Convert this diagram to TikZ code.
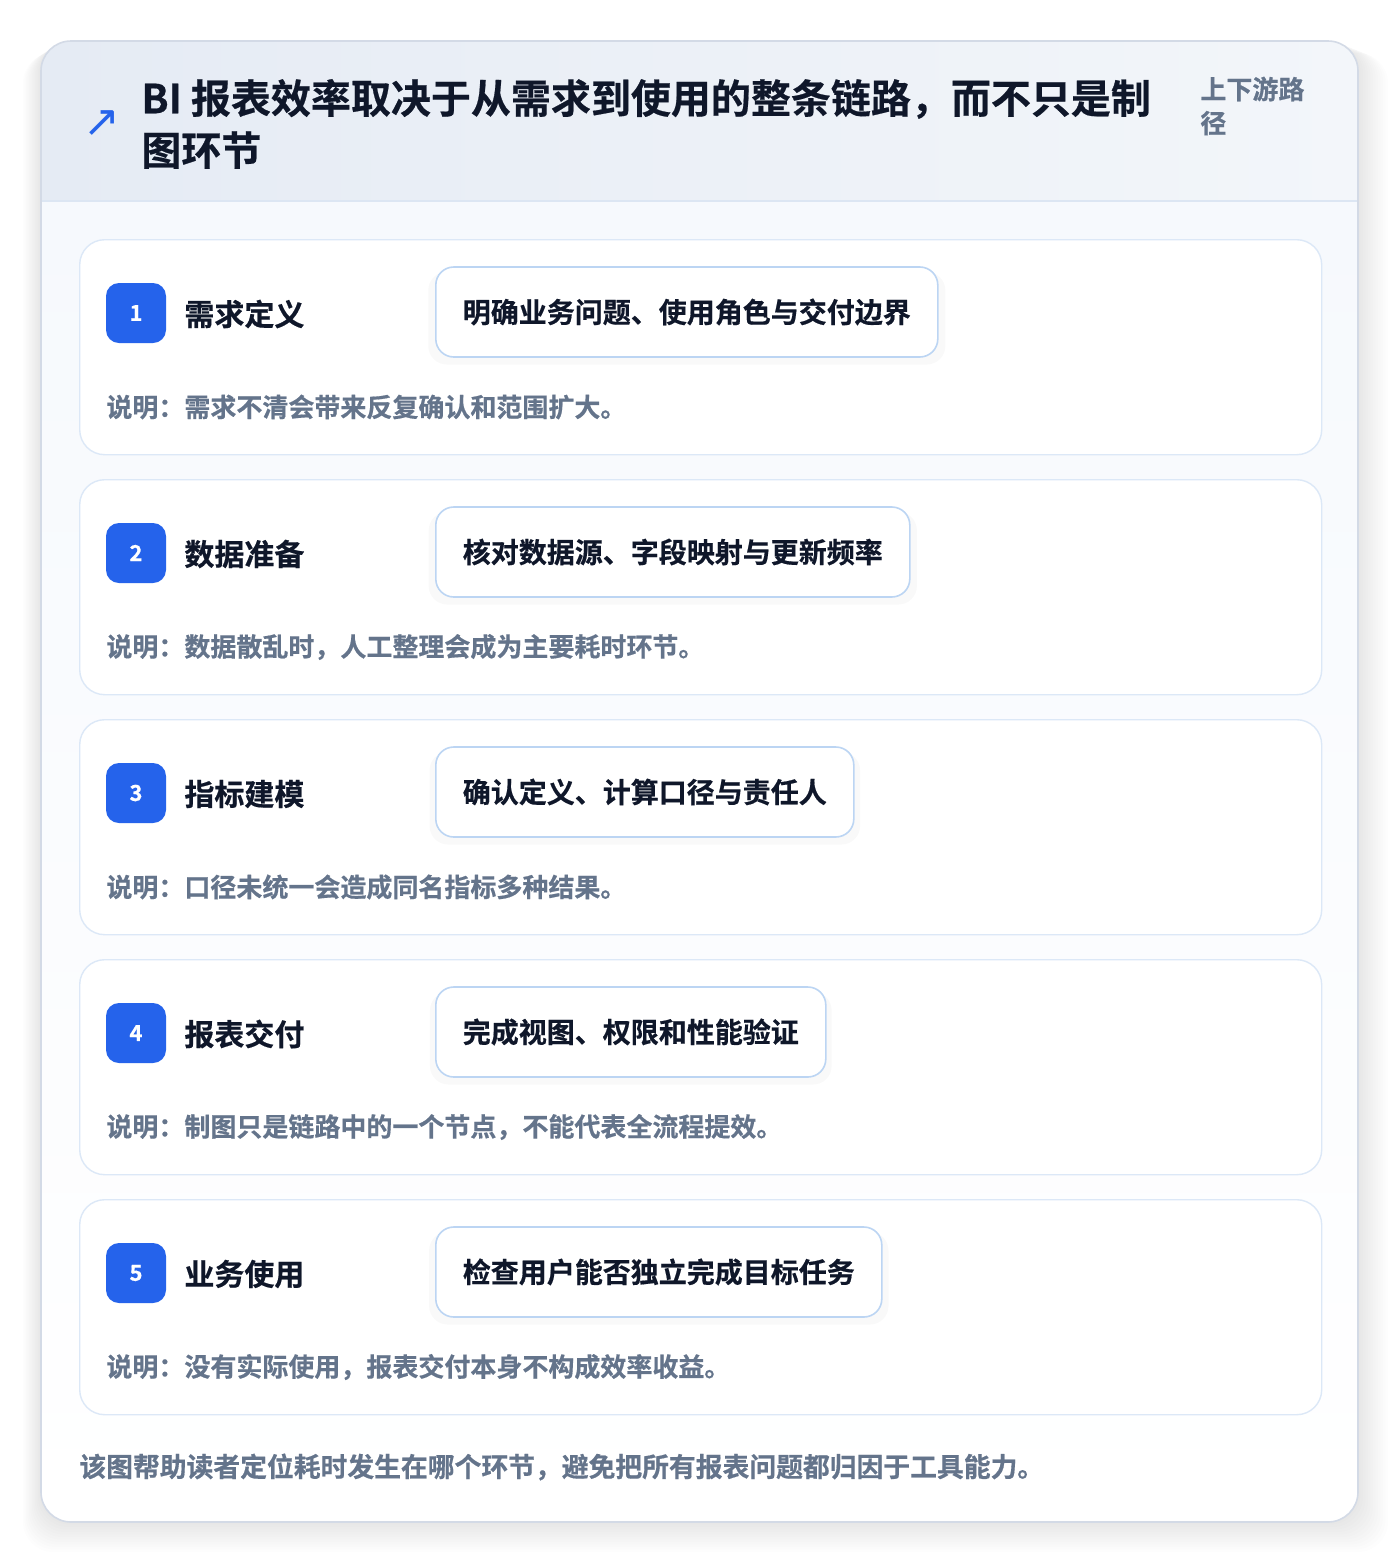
\documentclass[tikz,border=0pt]{standalone}
\usepackage{fontspec}
\setmainfont{Noto Sans CJK SC}[BoldFont={Noto Sans CJK SC Bold}, BoldFeatures={FakeBold=0.5}]
\newfontfamily\symfont{DejaVu Sans}
\usetikzlibrary{shadows}

\definecolor{ink}{HTML}{0F172A}
\definecolor{muted}{HTML}{64748B}
\definecolor{badgeblue}{HTML}{2563EB}
\definecolor{frameedge}{HTML}{D3DAE6}
\definecolor{hdrA}{HTML}{E5EBF4}
\definecolor{hdrB}{HTML}{F3F6FA}
\definecolor{hdrline}{HTML}{DCE6F3}
\definecolor{bodytop}{HTML}{F6F9FD}
\definecolor{cardedge}{HTML}{DCE8F7}
\definecolor{detailedge}{HTML}{BCD5F3}

\tikzset{
	stepcard/.style={draw=cardedge, fill=white, rounded corners=12.5pt, line width=0.7pt,
		minimum width=621pt, minimum height=107.5pt, inner sep=0pt, anchor=north west},
	badge/.style={fill=badgeblue, rounded corners=6.5pt, minimum size=30pt, inner sep=0pt,
		text=white, font=\bfseries\fontsize{11}{11}\selectfont},
	steptitle/.style={anchor=west, inner sep=0pt, text=ink, font=\bfseries\fontsize{15}{18}\selectfont},
	detailbox/.style={anchor=west, draw=detailedge, fill=white, rounded corners=9pt, line width=0.8pt,
		minimum height=45pt, inner xsep=13.5pt, inner ysep=0pt, text=ink,
		font=\bfseries\fontsize{14}{16}\selectfont,
		drop shadow={shadow xshift=0pt, shadow yshift=-3pt, shadow scale=1.03, opacity=0.025, fill=black}},
	notetext/.style={anchor=west, inner sep=0pt, text=muted, font=\bfseries\fontsize{13}{15}\selectfont}
}

\begin{document}
\begin{tikzpicture}[x=0.5pt, y=-0.5pt]
	\useasboundingbox (0,0) rectangle (1400,1564);
	\fill[white] (0,0) rectangle (1400,1564);
	% soft shadow of the frame
	\foreach \i in {1,...,12}
		\fill[black, opacity=0.007, rounded corners=15pt]
			({41-1.5*\i},{41+\i}) rectangle ({1358+2.5*\i},{1522+2.5*\i});
	% frame
	\begin{scope}
		\clip[rounded corners=15pt] (41,41) rectangle (1358,1522);
		\shade[left color=hdrA, right color=hdrB] (41,41) rectangle (1358,201);
		\shade[top color=bodytop, bottom color=white] (41,201) rectangle (1358,1522);
	\end{scope}
	\draw[hdrline, line width=0.8pt] (41,201) -- (1358,201);
	\draw[frameedge, line width=0.8pt, rounded corners=15pt] (41,41) rectangle (1358,1522);
	% header
	\node[text=badgeblue, inner sep=0pt, font=\symfont\fontsize{22}{22}\selectfont] (icon) at (102,124) {↗};
	\node[anchor=west, align=left, inner sep=0pt, text=ink, font=\bfseries\fontsize{20}{26}\selectfont]
		(headline) at (141,124) {BI 报表效率取决于从需求到使用的整条链路，而不只是制\\图环节};
	\node[anchor=west, align=left, inner sep=0pt, text=muted, font=\bfseries\fontsize{13}{17}\selectfont]
		(tag) at (1200,106) {上下游路\\径};
	% steps
	\foreach \num/\ttl/\dtl/\note in {
		1/需求定义/明确业务问题、使用角色与交付边界/说明：需求不清会带来反复确认和范围扩大。,
		2/数据准备/核对数据源、字段映射与更新频率/说明：数据散乱时，人工整理会成为主要耗时环节。,
		3/指标建模/确认定义、计算口径与责任人/说明：口径未统一会造成同名指标多种结果。,
		4/报表交付/完成视图、权限和性能验证/说明：制图只是链路中的一个节点，不能代表全流程提效。,
		5/业务使用/检查用户能否独立完成目标任务/说明：没有实际使用，报表交付本身不构成效率收益。}
	{
		\pgfmathsetmacro\top{239+240*(\num-1)}
		\node[stepcard] (card\num) at (79,\top) {};
		\node[badge] (badge\num) at (136,{\top+74}) {\num};
		\node[steptitle] (title\num) at (184,{\top+75}) {\ttl};
		\node[detailbox] (detail\num) at (435,{\top+73}) {\dtl};
		\node[notetext] (note\num) at (106,{\top+168}) {\note};
	}
	% footer
	\node[anchor=west, inner sep=0pt, text=muted, font=\bfseries\fontsize{13.4}{16}\selectfont]
		(footer) at (79,1467) {该图帮助读者定位耗时发生在哪个环节，避免把所有报表问题都归因于工具能力。};
\end{tikzpicture}
\end{document}
